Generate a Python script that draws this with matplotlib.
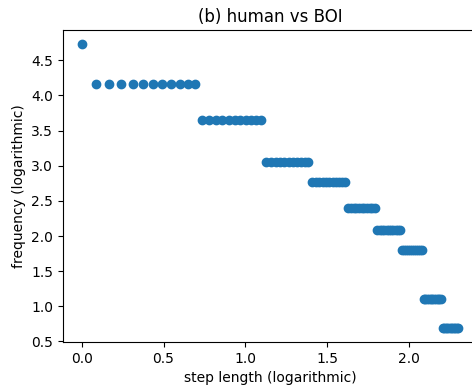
import numpy as np
import matplotlib
matplotlib.use("Agg")
import matplotlib.pyplot as plt

# step lengths from 1 to 10 (100 evenly spaced values)
step_lengths = np.linspace(1, 10, 100)
# number of consecutive steps sharing a frequency, and that log frequency
group_sizes = [1, 11, 11, 11, 11, 11, 11, 11, 11, 11]
log_freq = [4.73, 4.17, 3.645, 3.05, 2.775, 2.40, 2.08, 1.795, 1.097, 0.694]

ys = []
for size, f in zip(group_sizes, log_freq):
    ys.extend([f] * size)
xs = np.log(step_lengths)

fig = plt.figure(figsize=(4.72, 3.87), dpi=100)
ax = fig.add_axes([63 / 472, 45 / 387, 414 / 472, 312 / 387])

ax.scatter(xs, ys)
ax.set_title("(b) human vs BOI")
ax.set_xlabel("step length (logarithmic)")
ax.set_ylabel("frequency (logarithmic)")

fig.savefig("out.png", dpi=100)
